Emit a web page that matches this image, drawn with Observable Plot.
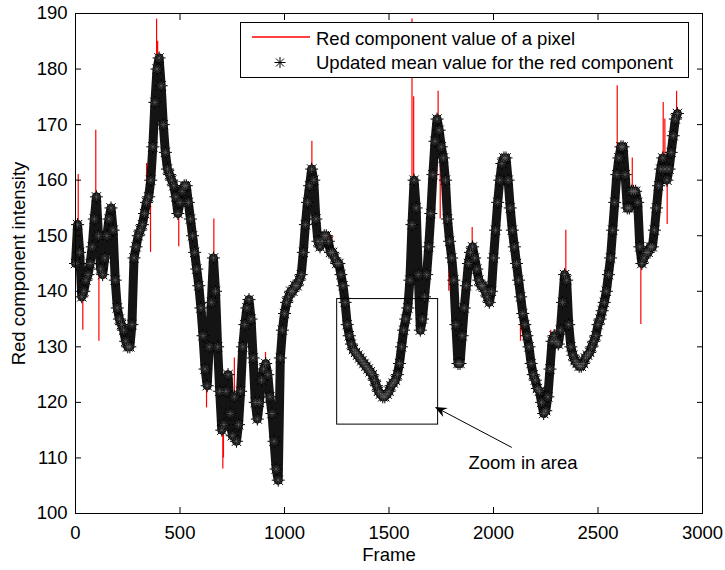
<!DOCTYPE html>
<html><head><meta charset="utf-8">
<script src="https://cdn.jsdelivr.net/npm/d3@7"></script>
<script src="https://cdn.jsdelivr.net/npm/@observablehq/plot@0.6"></script>
<style>
html,body{margin:0;padding:0;background:#fff;}
#chart{position:relative;width:725px;height:570px;}
</style></head><body><div id="chart"></div>
<script>
// ---- data ----
const frameStep = 10; // mean value sampled every 10 frames
const meanValues = [
  145,152,147,139,140,142,143,145,148,153,
  157,150,144,143,146,150,153,155,151,142,
  137,135,134,133,131,130,130,134,146,148,
  150,151,152,154,156,157,160,166,174,180,
  182,177,170,165,162,161,160,159,157,154,
  156,158,159,159,156,153,150,147,144,141,
  137,132,126,123,130,138,146,140,130,122,
  115,116,122,125,118,114,121,113,116,122,
  130,134,137,138.5,135,128,120,117,120,124,
  126,127,125,121,118,113,108,106,128,133,
  136,138,139,140,140,141,141,142,143,147,
  152,156,159,162,160,153,149,148,149,150,
  150,149,147,147,146,145,145,143,141,138,
  134,132,130.5,129.5,129,128.5,128,127.5,127,126.5,
  126,125.5,125,124,123,122,121.5,121,121,121.5,
  122,123,123.5,124,125,127,130,133,135,137,
  142,152,160,155,143,133,135,139,143,148,
  154,161,167,171,169,166,164,160,153,149,
  146,142,134,127,127,132,137,141,145,147,
  148,146,144,142,141,141,140,139,138,140,
  146,151,156,160,163,164,164,160,155,151,
  148,145,142,139,136,134,132,130,127,125,
  124,122.5,122,120,118,118.5,121,126,131,132,
  131,130.5,133,138,143,142,134,130,128.5,127.5,
  127,126.5,126.5,127,128,128.5,129,130,131,132,
  134,135,136.5,138,140,143,146,151,156,161,
  164,166,166,161,155,155,158,158,158,156,
  148,145,146,147,147,148,148,151,155,159,
  162,164,162,160,162,165,168,171,172
];
// isolated spikes of the raw red component
const spikeFrames = [13,35,97,112,340,359,388,393,494,627,662,705,708,760,909,1131,1227,1610,1618,1735,1745,1786,1898,2129,2274,2346,2592,2664,2705,2812,2820,2831,2876];
const spikeValues = [161,133,169,131,163,147,189,185,148,119,153,108,110,128,129,167,150,189,175,176,153,140,151.5,131,133,151,177,164,134,174,171,152,176];

const xTicks = [0,500,1000,1500,2000,2500,3000];
const yTicks = [100,110,120,130,140,150,160,170,180,190];

const zoomBoxFrames = [1252, 1735];
const zoomBoxValues = [116, 138.6];
const arrowTail = [2090, 111.8];
const arrowHead = [1722, 119.1];
const noteText = "Zoom in area";
const notePos = [2141, 109.1];

const legendLabels = ["Red component value of a pixel", "Updated mean value for the red component"];
const xLabel = "Frame";
const yLabel = "Red component intensity";

// ---- build tables ----
const meanData = meanValues.map((v, i) => ({frame: i * frameStep, value: v}));
const meanAt = f => meanValues[Math.min(meanValues.length - 1, Math.round(f / frameStep))];
const spikes = spikeFrames.map((f, i) => ({frame: f, value: spikeValues[i], base: meanAt(f)}));

const asterisk = {
  draw(ctx, size) {
    const r = Math.sqrt(size / Math.PI);
    const d = r * 0.72;
    ctx.moveTo(-r, 0); ctx.lineTo(r, 0);
    ctx.moveTo(0, -r); ctx.lineTo(0, r);
    ctx.moveTo(-d, -d); ctx.lineTo(d, d);
    ctx.moveTo(-d, d); ctx.lineTo(d, -d);
  }
};

const FONT = "18.5px";
const FAMILY = "'Liberation Sans', Arial, sans-serif";

function arrowRender(index, scales) {
  const x1 = scales.x(arrowTail[0]), y1 = scales.y(arrowTail[1]);
  const x2 = scales.x(arrowHead[0]), y2 = scales.y(arrowHead[1]);
  const dx = x2 - x1, dy = y2 - y1, len = Math.hypot(dx, dy);
  const ux = dx / len, uy = dy / len, nx = -uy, ny = ux;
  const L = 12, W = 5, N = 8;
  const g = d3.create("svg:g");
  g.append("line").attr("x1", x1).attr("y1", y1)
    .attr("x2", x2 - ux * N).attr("y2", y2 - uy * N)
    .attr("stroke", "black").attr("stroke-width", 1);
  const pts = [
    [x2, y2],
    [x2 - ux * L + nx * W, y2 - uy * L + ny * W],
    [x2 - ux * N, y2 - uy * N],
    [x2 - ux * L - nx * W, y2 - uy * L - ny * W]
  ];
  g.append("polygon").attr("points", pts.map(p => p.join(",")).join(" ")).attr("fill", "black");
  return g.node();
}

const plot = Plot.plot({
  width: 725,
  height: 570,
  marginLeft: 75,
  marginRight: 23,
  marginTop: 13,
  marginBottom: 57,
  style: {fontFamily: FAMILY, fontSize: FONT, color: "black", background: "white"},
  x: {domain: [0, 3000]},
  y: {domain: [100, 190]},
  marks: [
    Plot.line(meanData, {x: "frame", y: "value", stroke: "red", strokeWidth: 1}),
    Plot.ruleX(spikes, {x: "frame", y1: "base", y2: "value", stroke: "red", strokeWidth: 1.2}),
    // dense run of asterisk markers: drawn as a thick band plus the markers themselves
    Plot.line(meanData, {x: "frame", y: "value", stroke: "#141414", strokeWidth: 9, strokeLinejoin: "round", strokeLinecap: "round"}),
    Plot.dot(meanData, {x: "frame", y: "value", symbol: asterisk, r: 6.5, fill: "none", stroke: "black", strokeWidth: 1}),
    Plot.dot(meanData, {x: "frame", y: "value", symbol: asterisk, r: 4, fill: "none", stroke: "#666", strokeWidth: 0.6}),
    Plot.rect([0], {x1: () => zoomBoxFrames[0], x2: () => zoomBoxFrames[1], y1: () => zoomBoxValues[0], y2: () => zoomBoxValues[1], fill: "none", stroke: "black", strokeWidth: 1}),
    arrowRender,
    Plot.text([noteText], {x: () => notePos[0], y: () => notePos[1], text: d => d, textAnchor: "middle", lineAnchor: "middle", fill: "black"}),
    Plot.frame({stroke: "black", strokeWidth: 1}),
    Plot.axisX(xTicks, {anchor: "bottom", tickSize: 0, tickPadding: 12, tickFormat: d => String(d), label: null}),
    Plot.axisX(xTicks, {anchor: "bottom", tickSize: -6, fill: "none", label: null}),
    Plot.axisX(xTicks, {anchor: "top", tickSize: -6, fill: "none", label: null}),
    Plot.axisY(yTicks, {anchor: "left", tickSize: 0, tickPadding: 8, tickFormat: d => String(d), label: null}),
    Plot.axisY(yTicks, {anchor: "left", tickSize: -6, fill: "none", label: null}),
    Plot.axisY(yTicks, {anchor: "right", tickSize: -6, fill: "none", label: null}),
    Plot.text([xLabel], {text: d => d, frameAnchor: "bottom", dy: 34, lineAnchor: "top", fill: "black"}),
    Plot.text([yLabel], {text: d => d, frameAnchor: "left", dx: -56, rotate: -90, lineAnchor: "middle", textAnchor: "middle", fill: "black"})
  ]
});

document.getElementById("chart").appendChild(plot);

// ---- legend (inside the axes, top right) ----
const svg = d3.select(plot);
const lg = svg.append("g").attr("font-family", FAMILY).attr("font-size", FONT).attr("text-anchor", "start");
lg.append("rect").attr("x", 240.5).attr("y", 22.5).attr("width", 448).attr("height", 55)
  .attr("fill", "white").attr("stroke", "black").attr("stroke-width", 1);
lg.append("line").attr("x1", 252).attr("x2", 310).attr("y1", 37).attr("y2", 37)
  .attr("stroke", "#ff0000").attr("stroke-width", 1.4);
const sp = d3.path(); asterisk.draw(sp, 5.5 * 5.5 * Math.PI);
lg.append("path").attr("d", sp.toString()).attr("transform", "translate(280,62.5)")
  .attr("fill", "none").attr("stroke", "black").attr("stroke-width", 1);
lg.append("text").attr("x", 316).attr("y", 44.5).attr("fill", "black").attr("text-anchor", "start").text(legendLabels[0]);
lg.append("text").attr("x", 316).attr("y", 68.5).attr("fill", "black").attr("text-anchor", "start").text(legendLabels[1]);
</script>
</body></html>
